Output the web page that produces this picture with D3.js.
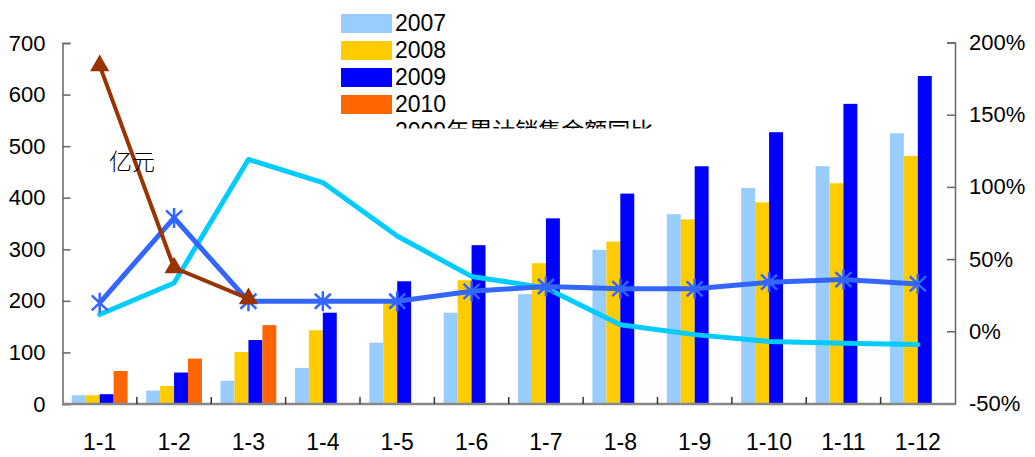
<!DOCTYPE html>
<html>
<head>
<meta charset="utf-8">
<script src="https://cdn.jsdelivr.net/npm/d3@7"></script>
<style>
  body { margin: 0; background: #fff; }
  svg text { font-family: "Liberation Sans", Arial, sans-serif; fill: #000; }
</style>
</head>
<body>
<svg id="chart" width="1035" height="457"></svg>
<script>
// categories and tick labels
var months = ["1-1", "1-2", "1-3", "1-4", "1-5", "1-6", "1-7", "1-8", "1-9", "1-10", "1-11", "1-12"];
var years = ["2007", "2008", "2009", "2010"];
var leftTicks = [0, 100, 200, 300, 400, 500, 600, 700];
var rightTicks = [-50, 0, 50, 100, 150, 200];

// bar values (亿元)
var sales2007 = [17, 26, 45, 70, 119, 177, 213, 299, 368, 419, 461, 525];
var sales2008 = [17, 35, 101, 143, 197, 240, 273, 315, 358, 391, 428, 481];
var sales2009 = [19, 61, 124, 177, 238, 308, 360, 408, 461, 527, 582, 636];
var sales2010 = [64, 88, 153];

// growth lines (%), right axis
var growth2008 = [11.6, 33.5, 119, 103, 66, 38, 30, 4.6, -2.3, -7, -8.3, -9.2];
var growth2009 = [19.7, 78.5, 20.8, 20.8, 20.8, 27.7, 31, 29.5, 29.4, 34, 35.8, 32.8];
var growth2010 = [184, 44, 22.6];

var barColors = ["#99CCFF", "#FFCC00", "#0000FF", "#FF6600"];
var barData = [sales2007, sales2008, sales2009, sales2010];

var svg = d3.select("#chart");

var x = d3.scaleBand().domain(months).range([62.5, 955]).paddingInner(0.25).paddingOuter(0.125);
var xs = d3.scaleBand().domain(years).range([0, x.bandwidth()]);
var yL = d3.scaleLinear().domain([0, 700]).range([404, 43]);
var yR = d3.scaleLinear().domain([-50, 200]).range([403.5, 42.5]);
var cx = function(i) { return x(months[i]) + x.bandwidth() / 2; };

// bars
years.forEach(function(yr, k) {
	svg.append("g")
		.selectAll("rect")
		.data(barData[k])
		.join("rect")
		.attr("x", function(d, i) { return x(months[i]) + xs(yr); })
		.attr("y", function(d) { return yL(d); })
		.attr("width", xs.bandwidth())
		.attr("height", function(d) { return yL(0) - yL(d); })
		.attr("fill", barColors[k]);
});

// left axis
var axL = svg.append("g")
	.attr("transform", "translate(62.5,0)")
	.call(d3.axisLeft(yL).tickValues(leftTicks).tickSize(-8).tickPadding(17));
axL.select(".domain").attr("stroke", "#666").attr("stroke-width", 1.5);
axL.selectAll(".tick line").attr("stroke", "#666").attr("stroke-width", 1.5);
axL.selectAll("text").style("font-size", "22px").attr("fill", "#000");

// right axis
var axR = svg.append("g")
	.attr("transform", "translate(955,0)")
	.call(d3.axisRight(yR).tickValues(rightTicks).tickSize(-8).tickPadding(14)
		.tickFormat(function(d) { return d + "%"; }));
axR.select(".domain").attr("stroke", "#666").attr("stroke-width", 1.5);
axR.selectAll(".tick line").attr("stroke", "#666").attr("stroke-width", 1.5);
axR.selectAll("text").style("font-size", "22px").attr("fill", "#000");

// bottom axis line and category separators
svg.append("line")
	.attr("x1", 62.5).attr("x2", 955)
	.attr("y1", yL(0)).attr("y2", yL(0))
	.attr("stroke", "#888").attr("stroke-width", 2.5);
svg.append("g")
	.selectAll("line")
	.data(months.slice(1))
	.join("line")
	.attr("x1", function(d) { return x(d) - x.step() * x.paddingInner() / 2; })
	.attr("x2", function(d) { return x(d) - x.step() * x.paddingInner() / 2; })
	.attr("y1", yL(0)).attr("y2", yL(0) - 7)
	.attr("stroke", "#333").attr("stroke-width", 1.5);

// x labels
svg.append("g")
	.selectAll("text")
	.data(months)
	.join("text")
	.attr("x", function(d, i) { return cx(i); })
	.attr("y", 450)
	.attr("text-anchor", "middle")
	.style("font-size", "23px")
	.text(function(d) { return d; });

// lines
var line = d3.line()
	.x(function(d, i) { return cx(i); })
	.y(function(d) { return yR(d); });

svg.append("path")
	.datum(growth2008)
	.attr("d", line)
	.attr("fill", "none")
	.attr("stroke", "#00CCFF")
	.attr("stroke-width", 5)
	.attr("stroke-linejoin", "round")
	.attr("stroke-linecap", "round");

svg.append("path")
	.datum(growth2009)
	.attr("d", line)
	.attr("fill", "none")
	.attr("stroke", "#3366FF")
	.attr("stroke-width", 5)
	.attr("stroke-linejoin", "round");

// star markers
var r = 10;
var starPath = "M0," + (-r) + "L0," + r +
	"M" + (-r * 0.8) + "," + (-r * 0.75) + "L" + (r * 0.8) + "," + (r * 0.75) +
	"M" + (-r * 0.8) + "," + (r * 0.75) + "L" + (r * 0.8) + "," + (-r * 0.75);
svg.append("g")
	.selectAll("path")
	.data(growth2009)
	.join("path")
	.attr("transform", function(d, i) { return "translate(" + cx(i) + "," + yR(d) + ")"; })
	.attr("d", starPath)
	.attr("stroke", "#3366FF")
	.attr("stroke-width", 2.5)
	.attr("fill", "none");

svg.append("path")
	.datum(growth2010)
	.attr("d", line)
	.attr("fill", "none")
	.attr("stroke", "#993300")
	.attr("stroke-width", 4)
	.attr("stroke-linejoin", "round");

svg.append("g")
	.selectAll("path")
	.data(growth2010)
	.join("path")
	.attr("transform", function(d, i) { return "translate(" + cx(i) + "," + yR(d) + ")"; })
	.attr("d", d3.symbol().type(d3.symbolTriangle).size(160))
	.attr("fill", "#993300");

// unit label
svg.append("text")
	.attr("x", 109)
	.attr("y", 170)
	.style("font-family", "'Noto Sans CJK SC', sans-serif")
	.style("font-size", "23px")
	.style("font-weight", 300)
	.attr("fill", "#222")
	.text("亿元");

// legend
svg.append("defs").append("clipPath").attr("id", "legClip")
	.append("rect").attr("x", 330).attr("y", 0).attr("width", 400).attr("height", 128.5);

var legend = svg.append("g").attr("clip-path", "url(#legClip)");
years.forEach(function(yr, k) {
	var yy = 14 + k * 27;
	legend.append("rect")
		.attr("x", 341).attr("y", yy)
		.attr("width", 51).attr("height", 19)
		.attr("fill", barColors[k]);
	legend.append("text")
		.attr("x", 395).attr("y", yy + 17)
		.style("font-size", "23px")
		.text(yr);
});
legend.append("text")
	.attr("x", 395).attr("y", 14 + 4 * 27 + 17)
	.style("font-size", "23px")
	.style("font-family", "'Liberation Sans', 'Noto Sans CJK SC', sans-serif")
	.text("2009年累计销售金额同比");
</script>
</body>
</html>
